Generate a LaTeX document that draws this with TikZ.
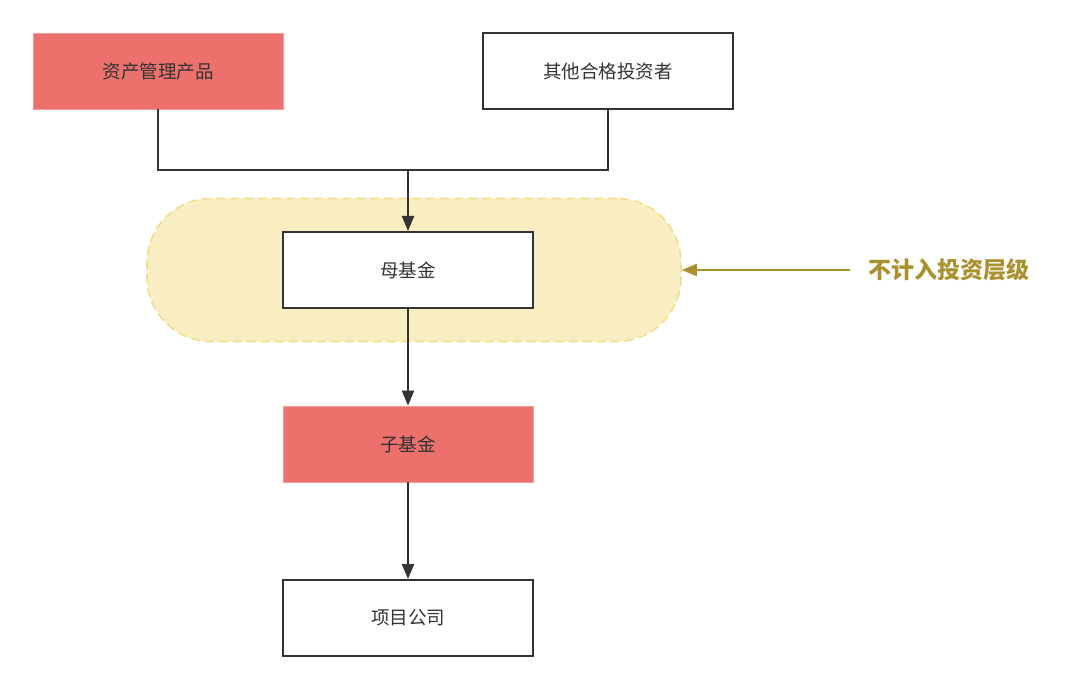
\documentclass[tikz,border=0pt]{standalone}
\usepackage{fontspec}
\newfontfamily\cjk{Noto Sans CJK SC}
\usetikzlibrary{arrows.meta}
\definecolor{redfill}{HTML}{EC716D}
\definecolor{ink}{HTML}{333333}
\definecolor{zonefill}{HTML}{F8EEC2}
\definecolor{zoneline}{HTML}{F1DE90}
\definecolor{gold}{HTML}{A8912E}
\tikzset{
  box/.style={rectangle, minimum width=250pt, minimum height=76pt, inner sep=0pt,
    font=\cjk\fontsize{18.5}{22}\selectfont, text=ink},
  whitebox/.style={box, draw=ink, line width=2pt, fill=white},
  redbox/.style={box, fill=redfill, draw=redfill!70!white, line width=0.6pt},
  conn/.style={draw=ink, line width=2pt},
  arr/.style={conn, -{Triangle[length=15pt,width=12pt]}},
}
\begin{document}
\begin{tikzpicture}[x=1pt,y=-1pt]
\useasboundingbox (0,0) rectangle (1080,690);
% zone
\node[draw=zoneline, fill=zonefill, dashed, dash pattern=on 9pt off 5pt, line width=1.6pt,
  rounded corners=64pt, minimum width=534pt, minimum height=143pt, inner sep=0pt]
  (zone) at (414,270) {};
% nodes
\node[redbox] (a) at (158,71) {资产管理产品};
\node[whitebox] (b) at (608,71) {其他合格投资者};
\node[whitebox] (m) at (408,270) {母基金};
\node[redbox] (s) at (408,444) {子基金};
\node[whitebox] (p) at (408,618) {项目公司};
\node[text=gold, font=\cjk\bfseries\fontsize{23}{26}\selectfont, inner sep=2pt, anchor=west]
  (l) at (866,270) {不计入投资层级};
\coordinate (j) at (408,170);
\coordinate (t) at (850,270);
% connectors
\draw[conn] (a.south) -- (a.south |- j) -- (b.south |- j) -- (b.south);
\draw[arr] (j) -- (m.north);
\draw[arr] (m.south) -- (s.north);
\draw[arr] (s.south) -- (p.north);
\draw[draw=gold, line width=2.2pt, -{Triangle[length=15pt,width=12pt]}] (t) -- (zone.east);
\end{tikzpicture}
\end{document}
